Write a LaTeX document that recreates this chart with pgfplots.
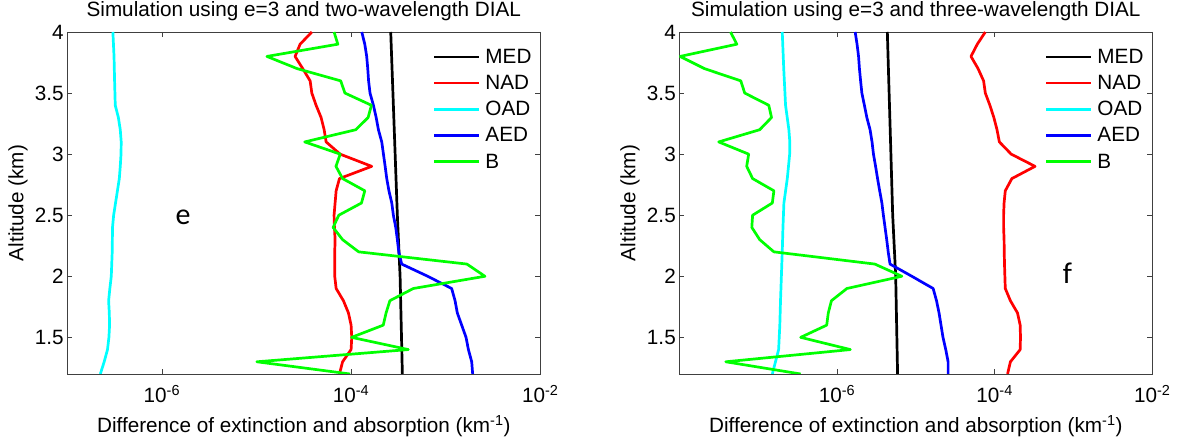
\documentclass[border=0pt]{standalone}
\usepackage{fontspec}
\setmainfont{Liberation Sans}
\newfontfamily\calfont{Carlito}
\usepackage{pgfplots}
\pgfplotsset{compat=1.18}
\definecolor{mcyan}{rgb}{0,1,1}
\definecolor{mgreen}{rgb}{0,1,0}
\definecolor{mred}{rgb}{1,0,0}
\definecolor{mblue}{rgb}{0,0,1}
\newcommand{\fs}{\fontsize{20.7}{24}\selectfont}
\pgfplotsset{
  legend image code/.code={\draw[#1] (0pt,0pt) -- (44.7pt,0pt);},
  every axis title shift=0pt,
}
\begin{document}
\begin{tikzpicture}
\useasboundingbox (0,0) rectangle (1178pt,446pt);
% ---------------- left panel ----------------
\begin{axis}[at={(67.3pt,72pt)}, anchor=south west, xmin=1e-7,
    scale only axis, width=473pt, height=342pt,
    xmode=log, xmax=1e-2, ymin=1.2, ymax=4,
    xtick={1e-6,1e-4,1e-2},
    xticklabels={10\textsuperscript{-6},10\textsuperscript{-4},10\textsuperscript{-2}},
    ytick={1.5,2,2.5,3,3.5,4},
    yticklabels={1.5,2,2.5,3,3.5,4},
    minor x tick style={draw=none},
    xtick pos=both, ytick pos=both,
    tick align=inside, major tick length=5pt,
    tick style={black!75, line width=0.6pt},
    axis line style={black!75, line width=0.8pt},
    tick label style={font=\fs},
    xticklabel style={anchor=base, yshift=-29pt},
    title style={at={(axis description cs:0.5,1)}, anchor=base, yshift=15pt, inner sep=0pt, font=\fs},
    xlabel style={at={(axis description cs:0.5,0)}, anchor=base, yshift=-59pt, inner sep=0pt, font=\fs},
    ylabel style={at={([xshift=-44pt]axis description cs:0,0.5)}, anchor=base, inner sep=0pt, font=\fs},
    xlabel={Difference of extinction and absorption (km\textsuperscript{-1})},
    ylabel={Altitude (km)},
    legend cell align=left,
    legend style={at={(axis description cs:0.7725,1)}, anchor=north west, yshift=-17pt,
      draw=none, fill=none, inner sep=0pt, outer sep=0pt, row sep=10.4pt, column sep=5.4pt,
      font=\fs, nodes={inner sep=0pt}},
    every axis plot/.append style={line width=2.7pt, line join=round},
  title={Simulation using e=3 and two-wavelength DIAL}]
\addplot[black] coordinates {(2.624e-4,4.0) (3.083e-4,2.5) (3.296e-4,2.0) (3.483e-4,1.2)};
\addplot[mred] coordinates {
(3.846e-5,4.0) (2.891e-5,3.9) (2.559e-5,3.8) (3.083e-5,3.7) (3.690e-5,3.6) (3.846e-5,3.5)
(4.266e-5,3.4) (4.819e-5,3.3) (5.188e-5,3.2) (5.445e-5,3.1) (7.656e-5,3.0) (1.652e-4,2.9)
(7.534e-5,2.8) (6.950e-5,2.7) (6.776e-5,2.6) (6.607e-5,2.5) (6.668e-5,2.4) (6.776e-5,2.3)
(6.714e-5,2.2) (6.714e-5,2.1) (6.714e-5,2.0) (6.950e-5,1.9) (8.299e-5,1.8) (9.376e-5,1.7)
(1.000e-4,1.6) (1.016e-4,1.5) (1.000e-4,1.4) (8.130e-5,1.3) (7.534e-5,1.2)};
\addplot[mcyan] coordinates {
(3.034e-7,4.0) (3.119e-7,3.8) (3.162e-7,3.6) (3.214e-7,3.4) (3.467e-7,3.3) (3.631e-7,3.2)
(3.715e-7,3.1) (3.698e-7,3.0) (3.631e-7,2.9) (3.548e-7,2.8) (3.388e-7,2.7) (3.236e-7,2.6)
(3.090e-7,2.5) (3.006e-7,2.4) (2.985e-7,2.2) (2.917e-7,2.0) (2.818e-7,1.9) (2.735e-7,1.8)
(2.780e-7,1.7) (2.799e-7,1.6) (2.754e-7,1.5) (2.661e-7,1.4) (2.455e-7,1.3) (2.234e-7,1.2)};
\addplot[mblue] coordinates {
(1.297e-4,4.0) (1.396e-4,3.9) (1.462e-4,3.8) (1.500e-4,3.7) (1.531e-4,3.6) (1.585e-4,3.5)
(1.722e-4,3.4) (1.841e-4,3.3) (1.945e-4,3.2) (2.109e-4,3.1) (2.198e-4,3.0) (2.291e-4,2.9)
(2.382e-4,2.8) (2.512e-4,2.7) (2.692e-4,2.6) (2.799e-4,2.5) (2.965e-4,2.4) (3.083e-4,2.3)
(3.192e-4,2.2) (3.428e-4,2.1) (6.457e-4,2.0) (1.156e-3,1.9) (1.256e-3,1.8) (1.327e-3,1.7)
(1.476e-3,1.6) (1.641e-3,1.5) (1.738e-3,1.4) (1.884e-3,1.3) (1.928e-3,1.2)};
\addplot[mgreen] coordinates {
(6.607e-5,4.0) (7.244e-5,3.9) (1.288e-5,3.8) (2.692e-5,3.7) (7.762e-5,3.6) (8.610e-5,3.5)
(1.641e-4,3.4) (1.514e-4,3.3) (1.122e-4,3.2) (3.236e-5,3.1) (7.674e-5,3.0) (6.918e-5,2.9)
(8.128e-5,2.8) (1.396e-4,2.7) (1.288e-4,2.6) (7.413e-5,2.5) (6.457e-5,2.4) (8.128e-5,2.3)
(1.202e-4,2.2) (1.675e-3,2.1) (2.600e-3,2.0) (4.550e-4,1.9) (2.570e-4,1.8) (2.344e-4,1.7)
(2.188e-4,1.6) (1.012e-4,1.5) (4.027e-4,1.4) (1.009e-5,1.3) (9.772e-5,1.2)};
\legend{MED,NAD,OAD,AED,B}
\node[anchor=base, font=\calfont\fontsize{30}{34}\selectfont, inner sep=0pt] at (axis cs:1.68e-6,2.425) {e};
\end{axis}
% ---------------- right panel ----------------
\begin{axis}[at={(679.3pt,72pt)}, anchor=south west, xmin=1e-8,
    scale only axis, width=473pt, height=342pt,
    xmode=log, xmax=1e-2, ymin=1.2, ymax=4,
    xtick={1e-6,1e-4,1e-2},
    xticklabels={10\textsuperscript{-6},10\textsuperscript{-4},10\textsuperscript{-2}},
    ytick={1.5,2,2.5,3,3.5,4},
    yticklabels={1.5,2,2.5,3,3.5,4},
    minor x tick style={draw=none},
    xtick pos=both, ytick pos=both,
    tick align=inside, major tick length=5pt,
    tick style={black!75, line width=0.6pt},
    axis line style={black!75, line width=0.8pt},
    tick label style={font=\fs},
    xticklabel style={anchor=base, yshift=-29pt},
    title style={at={(axis description cs:0.5,1)}, anchor=base, yshift=15pt, inner sep=0pt, font=\fs},
    xlabel style={at={(axis description cs:0.5,0)}, anchor=base, yshift=-59pt, inner sep=0pt, font=\fs},
    ylabel style={at={([xshift=-44pt]axis description cs:0,0.5)}, anchor=base, inner sep=0pt, font=\fs},
    xlabel={Difference of extinction and absorption (km\textsuperscript{-1})},
    ylabel={Altitude (km)},
    legend cell align=left,
    legend style={at={(axis description cs:0.7725,1)}, anchor=north west, yshift=-17pt,
      draw=none, fill=none, inner sep=0pt, outer sep=0pt, row sep=10.4pt, column sep=5.4pt,
      font=\fs, nodes={inner sep=0pt}},
    every axis plot/.append style={line width=2.7pt, line join=round},
  title={Simulation using e=3 and three-wavelength DIAL}]
\addplot[black] coordinates {(4.355e-6,4.0) (5.093e-6,2.5) (5.559e-6,2.0) (5.875e-6,1.2)};
\addplot[mred] coordinates {
(7.621e-5,4.0) (6.026e-5,3.9) (5.012e-5,3.8) (6.166e-5,3.7) (7.244e-5,3.6) (7.621e-5,3.5)
(8.710e-5,3.4) (9.772e-5,3.3) (1.072e-4,3.2) (1.148e-4,3.1) (1.622e-4,3.0) (3.258e-4,2.9)
(1.655e-4,2.8) (1.365e-4,2.7) (1.318e-4,2.6) (1.300e-4,2.5) (1.300e-4,2.4) (1.318e-4,2.3)
(1.324e-4,2.2) (1.334e-4,2.1) (1.349e-4,2.0) (1.365e-4,1.9) (1.585e-4,1.8) (1.950e-4,1.7)
(2.109e-4,1.6) (2.128e-4,1.5) (2.109e-4,1.4) (1.585e-4,1.3) (1.459e-4,1.2)};
\addplot[mcyan] coordinates {
(2.023e-7,4.0) (2.113e-7,3.7) (2.228e-7,3.4) (2.455e-7,3.2) (2.523e-7,3.1) (2.512e-7,3.0)
(2.344e-7,2.8) (2.123e-7,2.6) (2.065e-7,2.4) (2.023e-7,2.2) (1.972e-7,2.0) (1.923e-7,1.8)
(1.884e-7,1.6) (1.820e-7,1.4) (1.660e-7,1.3) (1.514e-7,1.2)};
\addplot[mblue] coordinates {
(1.702e-6,4.0) (1.799e-6,3.9) (1.879e-6,3.8) (1.928e-6,3.7) (1.995e-6,3.6) (2.070e-6,3.5)
(2.228e-6,3.4) (2.393e-6,3.3) (2.630e-6,3.2) (2.786e-6,3.1) (2.904e-6,3.0) (3.090e-6,2.9)
(3.273e-6,2.8) (3.483e-6,2.7) (3.715e-6,2.6) (3.882e-6,2.5) (4.074e-6,2.4) (4.276e-6,2.3)
(4.467e-6,2.2) (4.710e-6,2.1) (8.913e-6,2.0) (1.660e-5,1.9) (1.832e-5,1.8) (1.972e-5,1.7)
(2.089e-5,1.6) (2.213e-5,1.5) (2.399e-5,1.4) (2.570e-5,1.3) (2.570e-5,1.2)};
\addplot[mgreen] coordinates {
(4.467e-8,4.0) (5.370e-8,3.9) (1.023e-8,3.8) (2.089e-8,3.7) (6.026e-8,3.6) (6.761e-8,3.5)
(1.365e-7,3.4) (1.479e-7,3.3) (1.047e-7,3.2) (3.162e-8,3.1) (7.586e-8,3.0) (7.161e-8,2.9)
(8.511e-8,2.8) (1.585e-7,2.7) (1.514e-7,2.6) (8.511e-8,2.5) (8.318e-8,2.4) (1.047e-7,2.3)
(1.585e-7,2.2) (3.020e-6,2.1) (6.653e-6,2.0) (1.337e-6,1.9) (8.511e-7,1.8) (7.762e-7,1.7)
(7.413e-7,1.6) (3.467e-7,1.5) (1.479e-6,1.4) (3.890e-8,1.3) (3.467e-7,1.2)};
\legend{MED,NAD,OAD,AED,B}
\node[anchor=base, font=\calfont\fontsize{30}{34}\selectfont, inner sep=0pt] at (axis cs:8.4e-4,1.942) {f};
\end{axis}
\end{tikzpicture}
\end{document}
